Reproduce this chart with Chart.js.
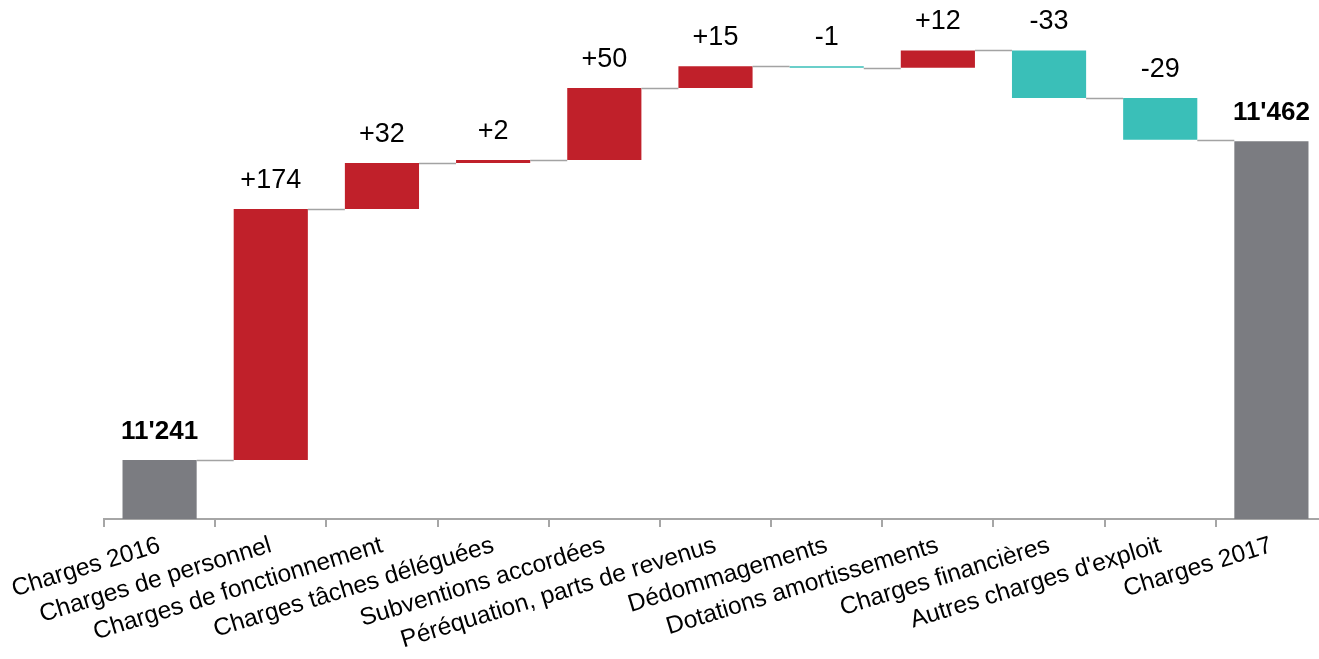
<!DOCTYPE html>
<html>
<head>
<meta charset="utf-8">
<script src="https://cdn.jsdelivr.net/npm/chart.js@4.4.1/dist/chart.umd.min.js"></script>
<style>
html,body{margin:0;padding:0;background:#fff;overflow:hidden;}
#wrap{width:1327px;height:659px;}
</style>
</head>
<body>
<div id="wrap"><canvas id="c" width="1327" height="659"></canvas></div>
<script>
const categories = ["Charges 2016","Charges de personnel","Charges de fonctionnement","Charges tâches déléguées","Subventions accordées","Péréquation, parts de revenus","Dédommagements","Dotations amortissements","Charges financières","Autres charges d'exploit","Charges 2017"];
const startTotal = 11241;
const endTotal = 11462;
const deltas = [174, 32, 2, 50, 15, -1, 12, -33, -29];
const totalLabels = ["11'241", "11'462"];
const yMin = 11200;
const yMax = 11560;

const COLOR_TOTAL = '#7b7c81';
const COLOR_UP = '#c0202a';
const COLOR_DOWN = '#3abfb8';

// build floating bars
const ranges = [];
const colors = [];
const labels = [];
const ends = [];
ranges.push([yMin, startTotal]); colors.push(COLOR_TOTAL); labels.push({t: totalLabels[0], bold: true}); ends.push(startTotal);
let cur = startTotal;
deltas.forEach(d => {
  const next = cur + d;
  ranges.push([Math.min(cur, next), Math.max(cur, next)]);
  colors.push(d >= 0 ? COLOR_UP : COLOR_DOWN);
  labels.push({t: (d >= 0 ? '+' : '') + d, bold: false});
  ends.push(next);
  cur = next;
});
ranges.push([yMin, endTotal]); colors.push(COLOR_TOTAL); labels.push({t: totalLabels[1], bold: true}); ends.push(endTotal);

const waterfallPlugin = {
  id: 'waterfall',
  afterDatasetsDraw(chart) {
    const ctx = chart.ctx;
    const meta = chart.getDatasetMeta(0);
    const y = chart.scales.y;
    ctx.save();
    // connectors
    ctx.strokeStyle = '#a3a3a3';
    ctx.lineWidth = 1.5;
    for (let i = 0; i < meta.data.length - 1; i++) {
      const b = meta.data[i], n = meta.data[i + 1];
      const py = Math.round(y.getPixelForValue(ends[i])) + 0.5;
      ctx.beginPath();
      ctx.moveTo(b.x + b.width / 2, py);
      ctx.lineTo(n.x - n.width / 2, py);
      ctx.stroke();
    }
    // labels
    ctx.fillStyle = '#000';
    ctx.textAlign = 'center';
    ctx.textBaseline = 'alphabetic';
    meta.data.forEach((b, i) => {
      const top = y.getPixelForValue(ranges[i][1]);
      ctx.font = (labels[i].bold ? 'bold 26px' : '27px') + ' "Liberation Sans", Arial, sans-serif';
      ctx.fillText(labels[i].t, b.x, top - 21);
    });
    ctx.restore();
  }
};

new Chart(document.getElementById('c'), {
  type: 'bar',
  data: {
    labels: categories,
    datasets: [{
      data: ranges,
      backgroundColor: colors,
      borderWidth: 0,
      barPercentage: 0.667,
      categoryPercentage: 1.0
    }]
  },
  options: {
    responsive: false,
    animation: false,
    layout: { padding: { left: 104, right: 0, top: 0, bottom: 0 } },
    plugins: { legend: { display: false }, tooltip: { enabled: false } },
    scales: {
      y: { display: false, min: yMin, max: yMax },
      x: {
        afterFit(scale) { scale.height = 140; },
        grid: { display: true, drawOnChartArea: false, drawTicks: true, tickLength: 8, color: '#a6a6a6', lineWidth: 2, offset: true },
        border: { display: true, color: '#a6a6a6', width: 2 },
        ticks: {
          color: '#000',
          font: { family: '"Liberation Sans", Arial, sans-serif', size: 24.5 },
          minRotation: 17, maxRotation: 17,
          autoSkip: false,
          padding: 4
        }
      }
    }
  },
  plugins: [waterfallPlugin]
});
</script>
</body>
</html>
